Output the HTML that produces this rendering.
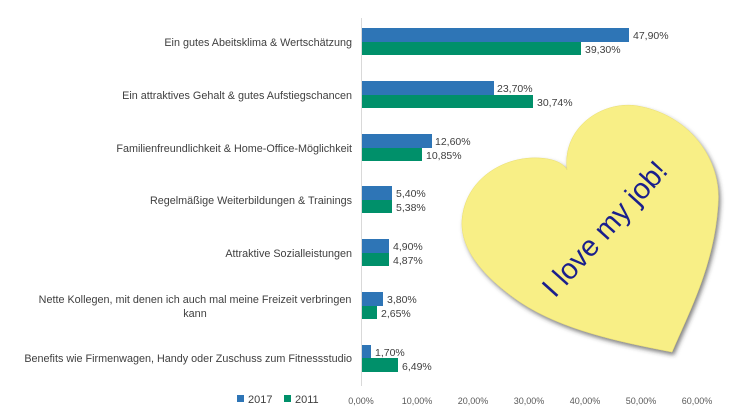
<!DOCTYPE html>
<html><head><meta charset="utf-8"><style>
html,body{margin:0;padding:0;background:#fff;}
svg{display:block;font-family:"Liberation Sans",sans-serif;}
</style></head><body>
<svg width="746" height="419" viewBox="0 0 746 419">
<defs>
<filter id="sh" x="-20%" y="-20%" width="140%" height="140%"><feDropShadow dx="2" dy="3" stdDeviation="2" flood-color="#333" flood-opacity="0.6"/></filter>
</defs>
<line x1="361.5" y1="18" x2="361.5" y2="386" stroke="#d9d9d9" stroke-width="1"/>
<g font-size="10.8" fill="#404040" text-anchor="end">
<text x="352" y="46">Ein gutes Abeitsklima &amp; Wertschätzung</text>
<text x="352" y="99">Ein attraktives Gehalt &amp; gutes Aufstiegschancen</text>
<text x="352" y="152">Familienfreundlichkeit &amp; Home-Office-Möglichkeit</text>
<text x="352" y="204">Regelmäßige Weiterbildungen &amp; Trainings</text>
<text x="352" y="257">Attraktive Sozialleistungen</text>
<text x="195" y="303" text-anchor="middle">Nette Kollegen, mit denen ich auch mal meine Freizeit verbringen</text>
<text x="195" y="317" text-anchor="middle">kann</text>
<text x="352" y="362">Benefits wie Firmenwagen, Handy oder Zuschuss zum Fitnessstudio</text>
</g>
<g>
<rect x="362" y="28" width="267" height="14" fill="#2e75b6"/><rect x="362" y="42" width="219" height="13" fill="#00906a"/>
<rect x="362" y="81" width="132" height="14" fill="#2e75b6"/><rect x="362" y="95" width="171" height="13" fill="#00906a"/>
<rect x="362" y="134" width="70" height="14" fill="#2e75b6"/><rect x="362" y="148" width="60" height="13" fill="#00906a"/>
<rect x="362" y="186" width="30" height="14" fill="#2e75b6"/><rect x="362" y="200" width="30" height="13" fill="#00906a"/>
<rect x="362" y="239" width="27" height="14" fill="#2e75b6"/><rect x="362" y="253" width="27" height="13" fill="#00906a"/>
<rect x="362" y="292" width="21" height="14" fill="#2e75b6"/><rect x="362" y="306" width="15" height="13" fill="#00906a"/>
<rect x="362" y="345" width="9" height="13" fill="#2e75b6"/><rect x="362" y="358" width="36" height="14" fill="#00906a"/>
</g>
<g font-size="10.5" fill="#404040">
<text x="633" y="39">47,90%</text><text x="585" y="53">39,30%</text>
<text x="497" y="92">23,70%</text><text x="537" y="106">30,74%</text>
<text x="435" y="145">12,60%</text><text x="426" y="159">10,85%</text>
<text x="396" y="197">5,40%</text><text x="396" y="211">5,38%</text>
<text x="393" y="250">4,90%</text><text x="393" y="264">4,87%</text>
<text x="387" y="303">3,80%</text><text x="381" y="317">2,65%</text>
<text x="375" y="356">1,70%</text><text x="402" y="370">6,49%</text>
</g>
<g font-size="9" fill="#595959" text-anchor="middle">
<text x="361" y="404">0,00%</text><text x="417" y="404">10,00%</text><text x="473" y="404">20,00%</text>
<text x="529" y="404">30,00%</text><text x="585" y="404">40,00%</text><text x="641" y="404">50,00%</text><text x="697" y="404">60,00%</text>
</g>
<g font-size="11" fill="#404040">
<rect x="237" y="395" width="7" height="7" fill="#2e75b6"/><text x="248" y="403">2017</text>
<rect x="284" y="395" width="7" height="7" fill="#00906a"/><text x="295" y="403">2011</text>
</g>
<path filter="url(#sh)" fill="#f8ef86" stroke="#e8dd70" stroke-width="0.5" d="M567 170 C562 125 605 100 638 106 C690 115 722 160 718 205 C714 265 690 310 672 352 C620 342 562 330 520 302 C482 276 460 248 462 220 C465 182 498 160 530 158 C550 157 563 162 567 170 Z"/>
<text x="606" y="238" font-size="29" fill="#1a1f8c" text-anchor="middle" font-family="'Liberation Sans',sans-serif" transform="rotate(-48 606 230)">I love my job!</text>
</svg>
</body></html>
